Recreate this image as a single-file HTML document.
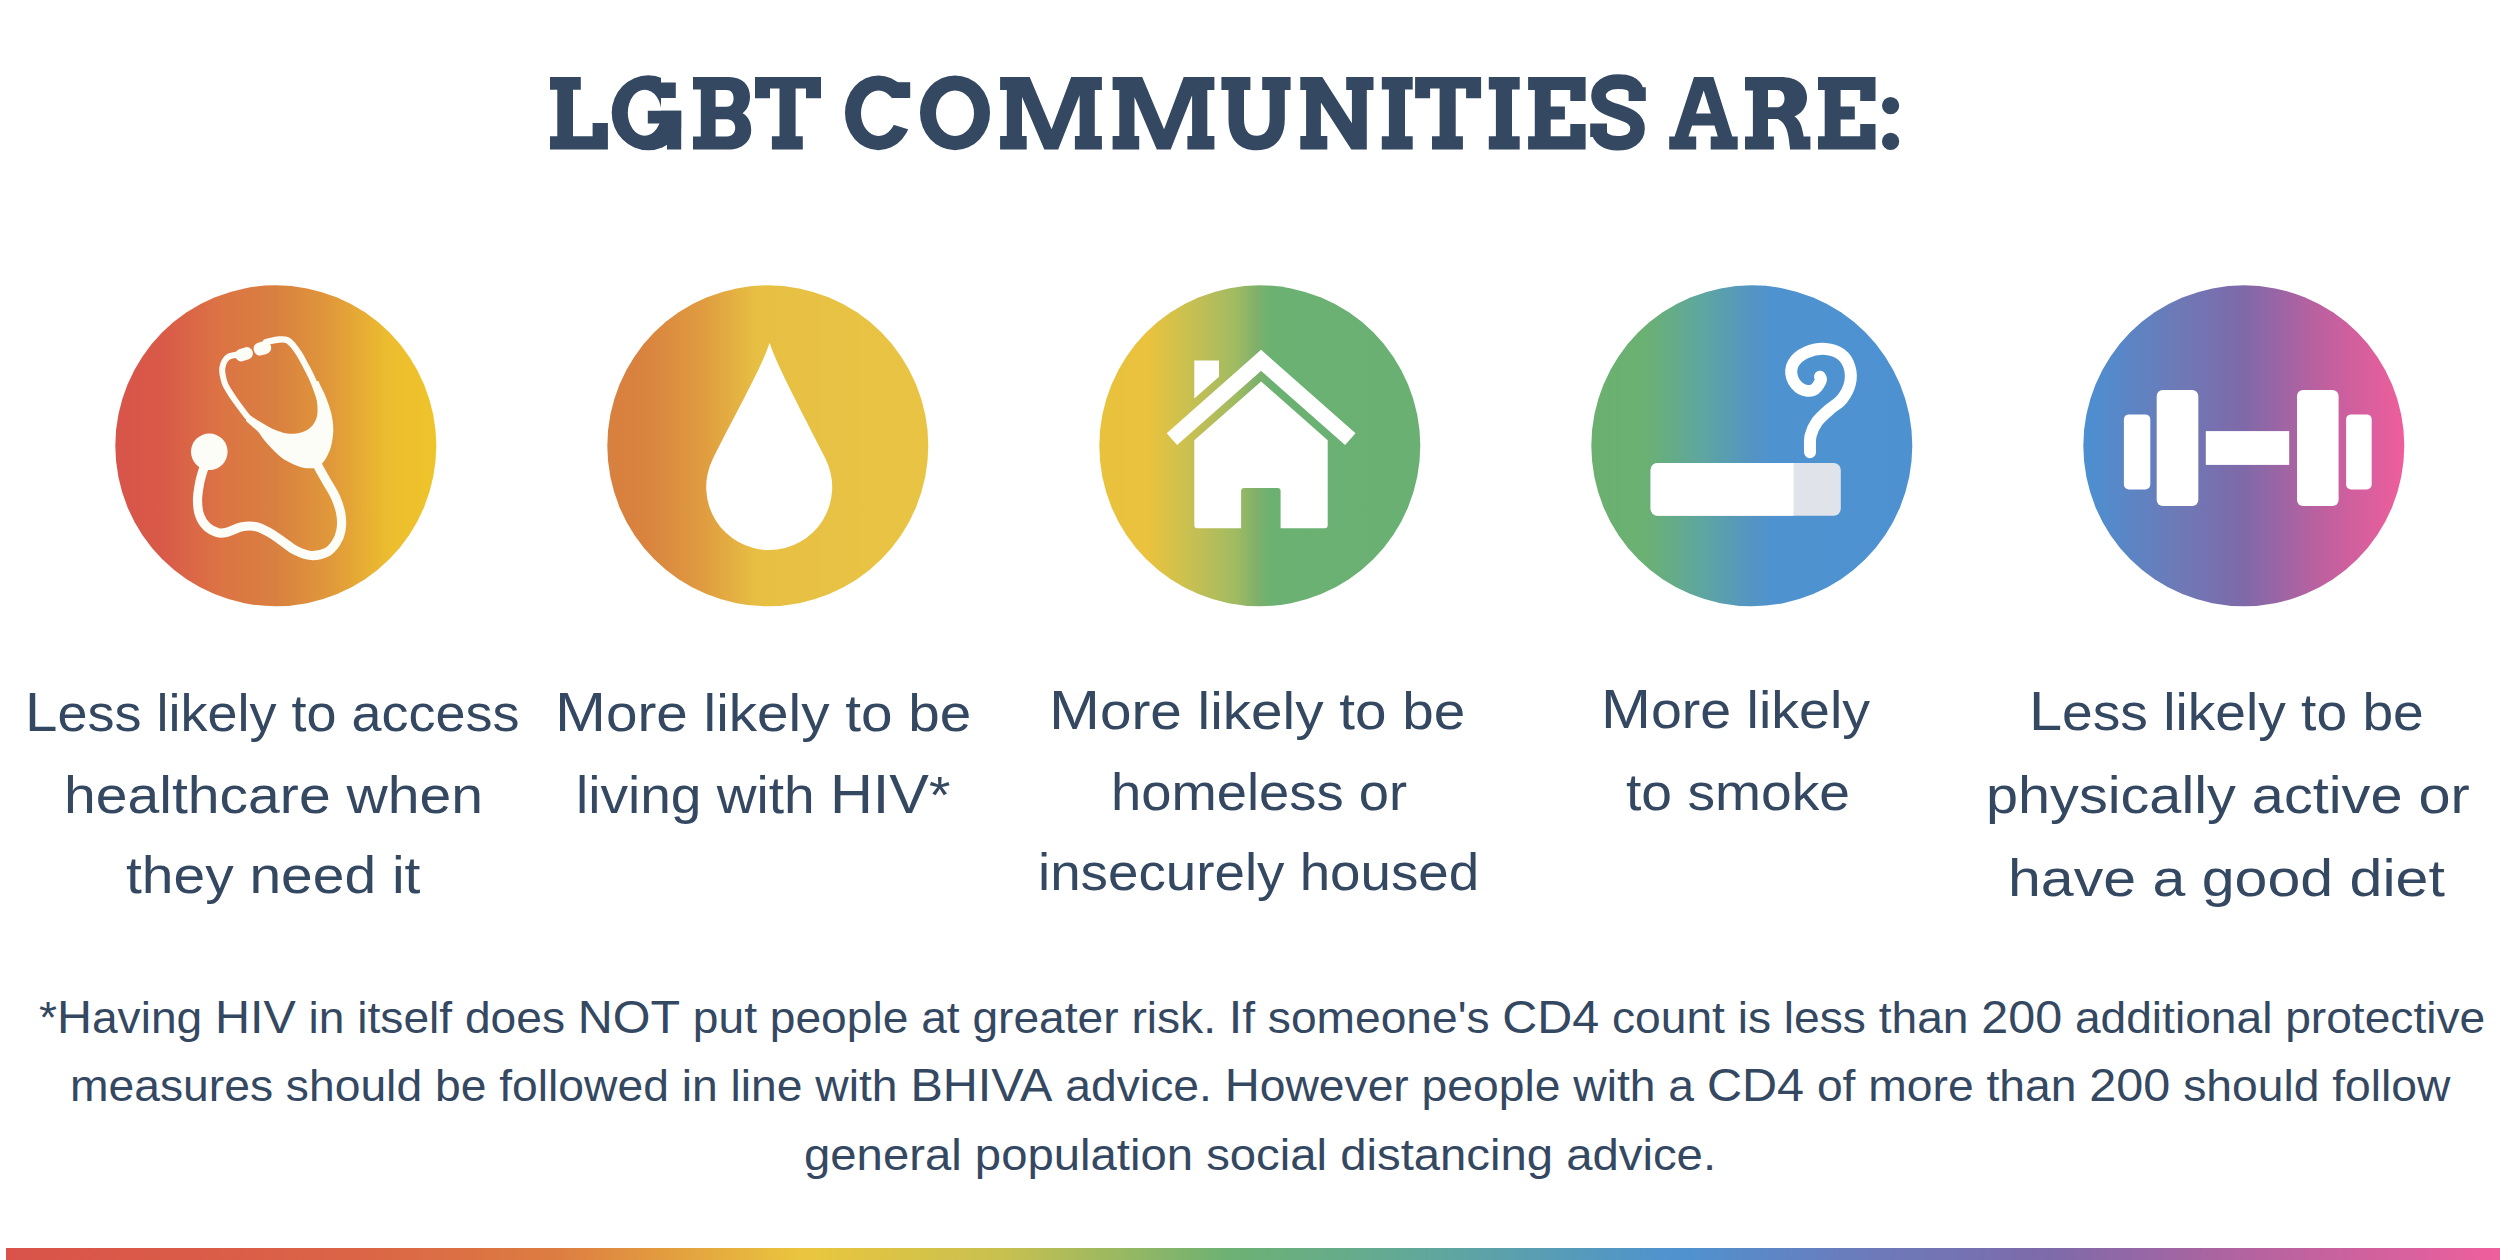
<!DOCTYPE html>
<html><head><meta charset="utf-8"><style>
html,body{margin:0;padding:0;background:#fff;}
body{width:2500px;height:1260px;position:relative;overflow:hidden;}
.t{position:absolute;white-space:nowrap;color:#344862;line-height:1;transform-origin:0 0;}
.c{line-height:0;}
svg{position:absolute;left:0;top:0;}
#bar{position:absolute;left:6px;top:1248px;width:2494px;height:12px;background:linear-gradient(90deg,#d9534a 0.0%,#db6446 14.0%,#dd7c41 22.0%,#eac63e 32.0%,#c8c050 40.0%,#6db173 49.0%,#62a996 56.0%,#4f92d0 67.0%,#6a7cbc 74.0%,#7e6aaa 82.0%,#b4639f 90.0%,#ef5f9d 100.0%);}
</style></head><body>
<svg width="2500" height="1260" viewBox="0 0 2500 1260"><title>LGBT COMMUNITIES ARE:</title><defs><linearGradient id="g0" gradientUnits="userSpaceOnUse" x1="115.30000000000001" y1="0" x2="436.3" y2="0"><stop offset="0" stop-color="#d8544a"/><stop offset="0.15" stop-color="#d95a48"/><stop offset="0.33" stop-color="#dc7444"/><stop offset="0.5" stop-color="#d98040"/><stop offset="0.68" stop-color="#e19a3a"/><stop offset="0.85" stop-color="#ecbd2f"/><stop offset="1" stop-color="#efc42a"/></linearGradient><linearGradient id="g1" gradientUnits="userSpaceOnUse" x1="607.3" y1="0" x2="928.3" y2="0"><stop offset="0" stop-color="#d8803f"/><stop offset="0.12" stop-color="#d9833f"/><stop offset="0.3" stop-color="#e09c40"/><stop offset="0.47" stop-color="#e7c043"/><stop offset="1" stop-color="#e9c444"/></linearGradient><linearGradient id="g2" gradientUnits="userSpaceOnUse" x1="1099.3" y1="0" x2="1420.3" y2="0"><stop offset="0" stop-color="#e9c23d"/><stop offset="0.152" stop-color="#eac23e"/><stop offset="0.233" stop-color="#d4c24a"/><stop offset="0.344" stop-color="#b8bd5a"/><stop offset="0.426" stop-color="#9fbb62"/><stop offset="0.494" stop-color="#7db06b"/><stop offset="0.535" stop-color="#6bb172"/><stop offset="1" stop-color="#6ab073"/></linearGradient><linearGradient id="g3" gradientUnits="userSpaceOnUse" x1="1591.3" y1="0" x2="1912.3" y2="0"><stop offset="0" stop-color="#6bb06f"/><stop offset="0.167" stop-color="#6bb172"/><stop offset="0.344" stop-color="#5ea6a0"/><stop offset="0.506" stop-color="#5494c4"/><stop offset="0.571" stop-color="#4e93d0"/><stop offset="1" stop-color="#4e91d1"/></linearGradient><linearGradient id="g4" gradientUnits="userSpaceOnUse" x1="2083.3" y1="0" x2="2404.3" y2="0"><stop offset="0" stop-color="#4b90d2"/><stop offset="0.3" stop-color="#6e79b6"/><stop offset="0.5" stop-color="#7f69a9"/><stop offset="0.75" stop-color="#c0609f"/><stop offset="1" stop-color="#ee5e9b"/></linearGradient><clipPath id="clipG"><path d="M600,60 H661 V110.8 H681.2 V160 H600 Z"/></clipPath><clipPath id="clipC"><path d="M835,60 H915 V97.9 H892 V124.3 L915,131.5 V160 H835 Z"/></clipPath></defs>
<g fill="#344862"><path d="M550.0,77.0 L580.8,77.0 L580.8,89.7 L573.0,89.7 L573.0,136.2 L592.6,136.2 L592.6,122.9 L607.9,122.9 L607.9,149.5 L550.0,149.5 L550.0,136.2 L557.3,136.2 L557.3,89.7 L550.0,89.7 Z "/><path d="M693,77.1 H729 C742.5,77.1 750,85.5 750,96.5 C750,104 747,110 742.6,113.2 C748.5,116.5 751.2,122.5 751.2,130 C751.2,141.5 742,149.6 728.5,149.6 H693 V136.4 H700.8 V89.6 H693 Z M715.6,89.9 H726.5 C731,89.9 733.6,93.4 733.6,98.3 C733.6,103.3 731,106.8 726.5,106.8 H715.6 Z M715.6,119.2 H727 C732,119.2 735.2,122.8 735.2,127.8 C735.2,132.8 732,136.4 727,136.4 H715.6 Z " fill-rule="evenodd"/><path d="M755.0,77.0 L821.0,77.0 L821.0,98.2 L806.0,98.2 L806.0,88.4 L795.6,88.4 L795.6,136.3 L802.8,136.3 L802.8,149.5 L771.9,149.5 L771.9,136.3 L779.5,136.3 L779.5,88.4 L770.0,88.4 L770.0,98.2 L755.0,98.2 Z "/><path d="M920.0,112.8 A35.0,37.4 0 1 0 990.0,112.8 A35.0,37.4 0 1 0 920.0,112.8 Z M936.0,113.2 A19.0,22.8 0 1 0 974.0,113.2 A19.0,22.8 0 1 0 936.0,113.2 Z " fill-rule="evenodd"/><path d="M1000.1,77.1 L1029.7,77.1 L1051.6,129.3 L1071.2,77.1 L1101.9,77.1 L1101.9,89.9 L1094.8,89.9 L1094.8,136.1 L1101.9,136.1 L1101.9,149.5 L1074.9,149.5 L1074.9,136.1 L1079.6,136.1 L1079.6,95.3 L1058.2,149.5 L1044.3,149.5 L1022.0,97.0 L1022.0,136.1 L1026.7,136.1 L1026.7,149.5 L1000.1,149.5 L1000.1,136.1 L1006.8,136.1 L1006.8,89.9 L1000.1,89.9 Z "/><path d="M1112.6,77.1 L1142.2,77.1 L1164.1,129.3 L1183.7,77.1 L1214.4,77.1 L1214.4,89.9 L1207.3,89.9 L1207.3,136.1 L1214.4,136.1 L1214.4,149.5 L1187.4,149.5 L1187.4,136.1 L1192.1,136.1 L1192.1,95.3 L1170.7,149.5 L1156.8,149.5 L1134.5,97.0 L1134.5,136.1 L1139.2,136.1 L1139.2,149.5 L1112.6,149.5 L1112.6,136.1 L1119.3,136.1 L1119.3,89.9 L1112.6,89.9 Z "/><path d="M1221.4,77.1 H1250.4 V89.9 H1244 V119 C1244,130 1248.5,135.8 1256.6,135.8 C1264.7,135.8 1269.6,130 1269.6,119 V89.9 H1262.2 V77.1 H1290.6 V89.9 H1284.8 V119 C1284.8,139.5 1274,150.3 1256.6,150.3 C1239.2,150.3 1228.5,139.5 1228.5,119 V89.9 H1221.4 Z "/><path d="M1300.3,77.1 L1322.3,77.1 L1351.9,123.3 L1351.9,89.9 L1346.2,89.9 L1346.2,77.1 L1373.5,77.1 L1373.5,89.9 L1366.8,89.9 L1366.8,149.5 L1351.3,149.5 L1320.9,102.4 L1320.9,136.1 L1327.3,136.1 L1327.3,149.5 L1300.3,149.5 L1300.3,136.1 L1306.1,136.1 L1306.1,89.9 L1300.3,89.9 Z "/><path d="M1381.8,77.0 L1412.7,77.0 L1412.7,89.6 L1405.0,89.6 L1405.0,136.3 L1412.7,136.3 L1412.7,149.5 L1381.8,149.5 L1381.8,136.3 L1388.9,136.3 L1388.9,89.6 L1381.8,89.6 Z "/><path d="M1415.1,77.0 L1481.1,77.0 L1481.1,98.2 L1466.1,98.2 L1466.1,88.4 L1455.7,88.4 L1455.7,136.3 L1462.9,136.3 L1462.9,149.5 L1432.0,149.5 L1432.0,136.3 L1439.6,136.3 L1439.6,88.4 L1430.1,88.4 L1430.1,98.2 L1415.1,98.2 Z "/><path d="M1488.8,77.0 L1519.7,77.0 L1519.7,89.6 L1512.0,89.6 L1512.0,136.3 L1519.7,136.3 L1519.7,149.5 L1488.8,149.5 L1488.8,136.3 L1495.9,136.3 L1495.9,89.6 L1488.8,89.6 Z "/><path d="M1528.1,77.0 L1585.6,77.0 L1585.6,101.0 L1570.3,101.0 L1570.3,90.1 L1550.7,90.1 L1550.7,106.4 L1564.9,106.4 L1564.9,119.6 L1550.7,119.6 L1550.7,136.2 L1570.3,136.2 L1570.3,124.0 L1585.6,124.0 L1585.6,149.5 L1528.1,149.5 L1528.1,136.2 L1534.8,136.2 L1534.8,90.1 L1528.1,90.1 Z "/><path d="M1694.0,77.0 L1713.4,77.0 L1732.3,136.4 L1737.7,136.4 L1737.7,149.5 L1710.7,149.5 L1710.7,136.4 L1717.8,136.4 L1714.5,125.6 L1692.1,125.6 L1688.5,136.4 L1696.2,136.4 L1696.2,149.5 L1669.2,149.5 L1669.2,136.4 L1674.6,136.4 Z M1703.7,90.5 L1710.9,113.4 L1696.0,113.4 Z " fill-rule="evenodd"/><path d="M1745,77 H1780.4 C1797.5,77 1807,85.5 1807,97.5 C1807,107.5 1801,114 1794.4,116.4 C1799.5,119.5 1801.8,126 1803,133 L1803.6,136.4 H1810.4 V149.5 H1790.1 L1789.6,145.6 C1788.6,132.5 1785.5,121.5 1777.5,119.1 H1768 V136.4 H1773.9 V149.5 H1745 V136.4 H1752.9 V90.5 H1745 Z M1768,90 H1777 C1782,90 1784.5,94 1784.5,98.6 C1784.5,103.5 1782,107.3 1777,107.3 H1768 Z " fill-rule="evenodd"/><path d="M1818.0,77.0 L1875.5,77.0 L1875.5,101.0 L1860.2,101.0 L1860.2,90.1 L1840.6,90.1 L1840.6,106.4 L1854.8,106.4 L1854.8,119.6 L1840.6,119.6 L1840.6,136.2 L1860.2,136.2 L1860.2,124.0 L1875.5,124.0 L1875.5,149.5 L1818.0,149.5 L1818.0,136.2 L1824.7,136.2 L1824.7,90.1 L1818.0,90.1 Z "/><path d="M1882.0,105.6 A8.6,8.6 0 1 0 1899.2,105.6 A8.6,8.6 0 1 0 1882.0,105.6 Z M1882.0,141.4 A8.6,8.6 0 1 0 1899.2,141.4 A8.6,8.6 0 1 0 1882.0,141.4 Z "/><path d="M611.7,112.8 A36.6,37.5 0 1 0 684.9,112.8 A36.6,37.5 0 1 0 611.7,112.8 Z M627.8,112.8 A16.8,23.0 0 1 0 661.4,112.8 A16.8,23.0 0 1 0 627.8,112.8 Z " fill-rule="evenodd" clip-path="url(#clipG)"/><path d="M661.0,82.5 H675.8 V98.0 H661.0 Z M647.8,110.8 H681.2 V123.6 H647.8 Z M667.0,123.6 H681.2 V149.6 H667.0 Z "/><path d="M845.0,112.8 A33.4,37.4 0 1 0 911.8,112.8 A33.4,37.4 0 1 0 845.0,112.8 Z M861.0,113.2 A17.6,22.8 0 1 0 896.2,113.2 A17.6,22.8 0 1 0 861.0,113.2 Z " fill-rule="evenodd" clip-path="url(#clipC)"/><path d="M895.1,82.2 H910.2 V97.9 H895.1 Z "/><path d="M1637,92 C1634,83 1627,81.6 1618,81.6 C1607,81.6 1598.5,87 1598.5,96 C1598.5,104 1605,107.5 1616,111 C1630,115.5 1637.5,119 1637.5,128.5 C1637.5,138 1629,143.3 1617.5,143.3 C1606,143.3 1599.5,137.5 1598.5,131" fill="none" stroke="#344862" stroke-width="14.6"/><path d="M1628.6,87.2 H1645.8 V101.0 H1628.6 Z M1590.2,123.6 H1607.0 V137.1 H1590.2 Z "/></g>
<circle cx="275.8" cy="445.8" r="160.5" fill="url(#g0)"/><circle cx="767.8" cy="445.8" r="160.5" fill="url(#g1)"/><circle cx="1259.8" cy="445.8" r="160.5" fill="url(#g2)"/><circle cx="1751.8" cy="445.8" r="160.5" fill="url(#g3)"/><circle cx="2243.8" cy="445.8" r="160.5" fill="url(#g4)"/>
<path d="M317.5,465.0 C318.1,466.1 319.5,468.8 321.0,471.5 C322.5,474.2 324.0,476.9 326.5,481.3 C329.0,485.7 333.4,492.3 335.8,497.8 C338.2,503.3 340.0,508.8 340.9,514.3 C341.8,519.8 341.8,526.0 340.9,530.8 C340.0,535.6 338.2,539.6 335.8,543.2 C333.4,546.8 330.6,550.4 326.5,552.4 C322.4,554.4 316.2,555.8 311.0,555.5 C305.8,555.2 300.3,552.8 295.5,550.4 C290.7,548.0 286.4,544.0 282.1,541.1 C277.8,538.2 274.0,535.2 269.7,532.8 C265.4,530.4 260.9,527.7 256.3,526.7 C251.7,525.7 246.5,525.9 241.9,526.7 C237.3,527.6 232.4,530.8 228.5,531.8 C224.6,532.8 221.8,533.6 218.2,532.8 C214.6,531.9 209.9,529.6 206.8,526.7 C203.7,523.8 201.2,519.8 199.6,515.3 C198.0,510.8 197.5,505.1 197.5,499.8 C197.5,494.5 198.7,488.3 199.6,483.3 C200.5,478.3 202.0,473.8 203.2,469.9 C204.4,466.0 206.4,461.6 207.0,460.0" fill="none" stroke="#fdfdf8" stroke-width="9.2" stroke-linecap="round"/>
<path d="M238.0,354.5 C236.5,354.8 231.2,355.4 229.0,356.5 C226.8,357.6 225.7,359.1 224.6,361.0 C223.5,362.9 222.6,365.7 222.3,368.0 C222.0,370.3 222.2,372.2 222.7,375.0 C223.2,377.8 223.8,381.3 225.5,385.0 C227.2,388.7 230.5,393.4 232.9,397.1 C235.3,400.8 237.6,403.8 240.0,407.0 C242.4,410.2 245.1,413.9 247.1,416.2 C249.1,418.5 251.2,420.2 252.0,421.0" fill="none" stroke="#fdfdf8" stroke-width="6" stroke-linecap="round"/>
<path d="M266.0,342.0 C268.2,341.6 275.4,339.8 279.0,339.5 C282.6,339.2 285.0,339.2 287.3,340.2 C289.6,341.1 291.0,342.9 293.0,345.2 C295.0,347.5 297.3,350.7 299.4,354.1 C301.5,357.5 303.6,361.6 305.7,365.6 C307.8,369.6 310.2,374.1 312.1,378.3 C314.0,382.5 315.6,386.9 317.1,391.0 C318.6,395.1 320.0,399.5 321.0,403.0 C322.0,406.5 322.7,410.5 323.0,412.0" fill="none" stroke="#fdfdf8" stroke-width="6.3" stroke-linecap="round"/>
<path d="M246.0,416.0 C246.7,415.9 248.0,414.9 250.0,415.7 C252.0,416.4 255.2,418.9 257.9,420.5 C260.5,422.1 263.0,423.6 265.9,425.2 C268.8,426.8 272.1,428.7 275.4,430.0 C278.7,431.3 282.3,432.6 285.7,433.2 C289.1,433.8 292.7,434.0 296.0,433.6 C299.3,433.2 302.8,432.2 305.6,430.8 C308.4,429.4 310.9,427.4 312.7,425.2 C314.5,422.9 315.9,420.2 316.7,417.3 C317.5,414.4 317.6,411.4 317.5,407.8 C317.4,404.2 316.8,399.5 316.2,395.9 C315.6,392.3 314.4,388.5 313.8,386.0 C313.2,383.5 312.8,381.8 312.6,381.0 L318.4,381.0 C318.9,382.2 320.4,385.5 321.6,388.0 C322.8,390.5 324.0,392.3 325.4,395.9 C326.8,399.5 329.0,405.4 330.2,409.4 C331.4,413.4 332.0,416.1 332.5,419.7 C333.0,423.3 333.4,426.8 333.3,430.8 C333.2,434.8 332.5,439.8 331.7,443.5 C330.9,447.2 330.1,449.8 328.6,453.0 C327.2,456.2 325.1,460.1 323.0,462.5 C320.9,464.9 318.5,466.5 316.0,467.5 C313.5,468.5 310.4,468.3 308.0,468.3 C305.6,468.3 304.1,468.1 301.3,467.3 C298.5,466.5 294.6,464.9 291.3,463.3 C288.0,461.7 284.9,460.2 281.7,457.8 C278.5,455.4 275.1,451.9 272.2,449.0 C269.3,446.1 266.7,443.2 264.3,440.3 C261.9,437.4 260.3,434.2 257.9,431.6 C255.5,429.0 252.0,426.2 250.0,424.4 C248.0,422.6 246.7,421.6 246.0,421.0 Z" fill="#fdfdf8"/>
<circle cx="209.3" cy="451.8" r="18.3" fill="#fdfdf8"/>
<rect x="235" y="348" width="18" height="12.5" rx="6" transform="rotate(-18 244 354.2)" fill="#fdfdf8"/>
<rect x="253.6" y="341.8" width="17.6" height="13" rx="6.2" transform="rotate(-15 262.4 348.3)" fill="#fdfdf8"/>
<path d="M769.6,342.8 C777.1,366.6 805.4,418.6 825.5,458.8 A63,63 0 1 1 712.9,458.8 C733,418.6 762.1,366.6 769.6,342.8 Z" fill="#ffffff"/>
<polyline points="1171.9,439.2 1261.1,360.3 1350.3,439.2" fill="none" stroke="#ffffff" stroke-width="15.7" stroke-miterlimit="10"/>
<path d="M1194.3,360.5 H1219 V376.7 L1194.3,398.5 Z" fill="#ffffff"/>
<path d="M1261.1,381.4 L1327.7,440.3 V525.3 Q1327.7,528.3 1324.7,528.3 H1280.6 V491 Q1280.6,488 1277.6,488 H1244.1 Q1241.1,488 1241.1,491 V528.3 H1197.3 Q1194.3,528.3 1194.3,525.3 V440.3 Z" fill="#ffffff"/>
<rect x="1650.6" y="463" width="190.2" height="52.8" rx="7" fill="#e0e3e9"/>
<path d="M1657.6,463 H1793.6 V515.8 H1657.6 A7,7 0 0 1 1650.6,508.8 V470 A7,7 0 0 1 1657.6,463 Z" fill="#ffffff"/>
<path d="M1810.0,452.2 C1810.1,449.4 1809.5,440.6 1810.6,435.6 C1811.7,430.6 1813.7,426.5 1816.7,422.2 C1819.8,417.9 1824.7,413.9 1828.9,410.0 C1833.2,406.1 1838.7,403.3 1842.2,398.9 C1845.7,394.4 1848.8,388.7 1850.0,383.3 C1851.2,377.9 1850.9,371.5 1849.4,366.7 C1847.9,361.9 1845.1,357.4 1841.1,354.4 C1837.1,351.4 1831.3,349.3 1825.6,348.9 C1819.9,348.5 1812.1,349.8 1806.7,352.2 C1801.3,354.6 1795.7,359.0 1793.3,363.3 C1790.9,367.6 1790.9,373.5 1792.2,377.8 C1793.5,382.1 1797.6,386.9 1801.1,388.9 C1804.6,390.9 1810.0,391.3 1813.3,390.0 C1816.5,388.7 1819.5,383.3 1820.6,381.1 C1821.7,378.9 1820.1,377.4 1820.0,376.7" fill="none" stroke="#ffffff" stroke-width="12" stroke-linecap="round"/>
<rect x="2123.9" y="414.4" width="26.4" height="75.0" rx="5" fill="#ffffff"/>
<rect x="2156.7" y="390" width="41.6" height="116.1" rx="6" fill="#ffffff"/>
<rect x="2205.8" y="431.1" width="83.4" height="33.8" rx="0" fill="#ffffff"/>
<rect x="2297" y="390" width="41.6" height="116.1" rx="6" fill="#ffffff"/>
<rect x="2346.1" y="414.4" width="25.6" height="75.0" rx="5" fill="#ffffff"/>
</svg>
<div class="t" style="left:24.85px;top:687.00px;font:normal 52px/52px 'Liberation Sans', sans-serif;transform:scaleX(1.0385);"><span class="c" style="font-size:1.08em">L</span>ess likely to access</div>
<div class="t" style="left:64.21px;top:768.50px;font:normal 52px/52px 'Liberation Sans', sans-serif;transform:scaleX(1.0980);">healthcare when</div>
<div class="t" style="left:125.99px;top:849.00px;font:normal 52px/52px 'Liberation Sans', sans-serif;transform:scaleX(1.0950);">they need it</div>
<div class="t" style="left:554.65px;top:687.10px;font:normal 52px/52px 'Liberation Sans', sans-serif;transform:scaleX(1.0895);"><span class="c" style="font-size:1.08em">M</span>ore likely to be</div>
<div class="t" style="left:576.34px;top:768.50px;font:normal 52px/52px 'Liberation Sans', sans-serif;transform:scaleX(1.0584);">living with <span class="c" style="font-size:1.08em">HIV</span>*</div>
<div class="t" style="left:1049.15px;top:684.50px;font:normal 52px/52px 'Liberation Sans', sans-serif;transform:scaleX(1.0895);"><span class="c" style="font-size:1.08em">M</span>ore likely to be</div>
<div class="t" style="left:1110.86px;top:765.90px;font:normal 52px/52px 'Liberation Sans', sans-serif;transform:scaleX(1.0450);">homeless or</div>
<div class="t" style="left:1037.84px;top:846.20px;font:normal 52px/52px 'Liberation Sans', sans-serif;transform:scaleX(1.0527);">insecurely housed</div>
<div class="t" style="left:1601.24px;top:684.30px;font:normal 52px/52px 'Liberation Sans', sans-serif;transform:scaleX(1.0676);"><span class="c" style="font-size:1.08em">M</span>ore likely</div>
<div class="t" style="left:1625.99px;top:765.90px;font:normal 52px/52px 'Liberation Sans', sans-serif;transform:scaleX(1.0620);">to smoke</div>
<div class="t" style="left:2028.76px;top:685.90px;font:normal 52px/52px 'Liberation Sans', sans-serif;transform:scaleX(1.0603);"><span class="c" style="font-size:1.08em">L</span>ess likely to be</div>
<div class="t" style="left:1985.67px;top:769.10px;font:normal 52px/52px 'Liberation Sans', sans-serif;transform:scaleX(1.1084);">physically active or</div>
<div class="t" style="left:2007.59px;top:851.70px;font:normal 52px/52px 'Liberation Sans', sans-serif;transform:scaleX(1.1359);">have a good diet</div>
<div class="t" style="left:38.51px;top:995.50px;font:normal 44px/44px 'Liberation Sans', sans-serif;transform:scaleX(1.0484);">*<span class="c" style="font-size:1.05em">H</span>aving <span class="c" style="font-size:1.05em">HIV</span> in itself does <span class="c" style="font-size:1.05em">NOT</span> put people at greater risk. <span class="c" style="font-size:1.05em">I</span>f someone's <span class="c" style="font-size:1.05em">CD4</span> count is less than <span class="c" style="font-size:1.05em">200</span> additional protective</div>
<div class="t" style="left:70.40px;top:1064.20px;font:normal 44px/44px 'Liberation Sans', sans-serif;transform:scaleX(1.0508);">measures should be followed in line with <span class="c" style="font-size:1.05em">BHIVA</span> advice. <span class="c" style="font-size:1.05em">H</span>owever people with a <span class="c" style="font-size:1.05em">CD4</span> of more than <span class="c" style="font-size:1.05em">200</span> should follow</div>
<div class="t" style="left:804.42px;top:1132.50px;font:normal 44px/44px 'Liberation Sans', sans-serif;transform:scaleX(1.0745);">general population social distancing advice.</div>
<div id="bar"></div>
</body></html>
